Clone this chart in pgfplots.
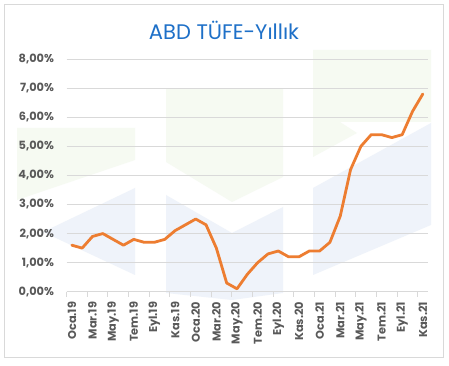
\documentclass[border=0pt]{standalone}
\usepackage{pgfplots}
\pgfplotsset{compat=1.18}
\usepackage{fontspec}
\setmainfont{Poppins}
\definecolor{titleblue}{RGB}{30,112,200}
\definecolor{tickgray}{RGB}{89,89,89}
\definecolor{gridgray}{RGB}{217,217,217}
\definecolor{lineorange}{RGB}{237,125,49}
\definecolor{wmgreen}{RGB}{246,250,242}
\definecolor{wmblue}{RGB}{239,243,250}
\begin{document}
\begin{tikzpicture}[x=0.75pt,y=0.75pt]
\useasboundingbox (0,0) rectangle (449,366);
\fill[white] (0,0) rectangle (449,366);
\draw[gridgray, line width=0.75pt] (4,8) rectangle (443,361);
% watermark decoration
\fill[wmgreen] (17,238) -- (135,238) -- (135,206) -- (17,166) -- cycle;
\fill[wmblue] (135,178) -- (135,91) -- (43,134) -- cycle;
\fill[wmgreen] (166,277) -- (283,277) -- (283,189) -- (232,164) -- (166,204) -- cycle;
\fill[wmblue] (166,171) -- (232,133) -- (283,159) -- (283,73) -- (232,66) -- (166,73) -- cycle;
\fill[wmgreen] (313,316) -- (431,316) -- (431,244) -- (340,244) -- (357,233) -- (313,209) -- cycle;
\fill[wmblue] (313,178) -- (431,243) -- (431,141) -- (313,91) -- cycle;
\node[titleblue, font=\fontsize{15.8}{18}\selectfont] at (224,336) {ABD TÜFE-Yıllık};
\begin{axis}[
  at={(50pt,55.7pt)}, anchor=south west,
  scale only axis, width=271pt, height=174.5pt,
  xmin=-0.5, xmax=34.5, ymin=0, ymax=8,
  axis x line*=bottom, axis y line*=left,
  x axis line style={draw=gridgray, line width=0.75pt, -},
  y axis line style={draw=none},
  ytick={0,1,...,8},
  yticklabels={{0,00\%},{1,00\%},{2,00\%},{3,00\%},{4,00\%},{5,00\%},{6,00\%},{7,00\%},{8,00\%}},
  ymajorgrids, grid style={gridgray, line width=0.75pt},
  y tick style={draw=none},
  xtick={0,2,...,34},
  xticklabels={Oca.19,Mar.19,May.19,Tem.19,Eyl.19,Kas.19,Oca.20,Mar.20,May.20,Tem.20,Eyl.20,Kas.20,Oca.21,Mar.21,May.21,Tem.21,Eyl.21,Kas.21},
  x tick style={draw=none},
  major tick length=0pt,
  extra x ticks={-0.5,1.5,...,33.5},
  extra x tick labels={},
  extra x tick style={x tick style={draw=gridgray, line width=0.75pt}, tick align=outside, major tick length=3.75pt, xmajorgrids=false},
  tick label style={font=\fontsize{8.5}{10}\selectfont\bfseries, color=tickgray},
  x tick label style={rotate=90, anchor=east},
  xticklabel shift=4pt,
  yticklabel shift=6pt,
  clip=false,
]
\addplot[lineorange, line width=2.1pt, line join=round, line cap=round] table {
x y
0 1.6
1 1.5
2 1.9
3 2.0
4 1.8
5 1.6
6 1.8
7 1.7
8 1.7
9 1.8
10 2.1
11 2.3
12 2.5
13 2.3
14 1.5
15 0.3
16 0.1
17 0.6
18 1.0
19 1.3
20 1.4
21 1.2
22 1.2
23 1.4
24 1.4
25 1.7
26 2.6
27 4.2
28 5.0
29 5.4
30 5.4
31 5.3
32 5.4
33 6.2
34 6.8
};
\end{axis}
\end{tikzpicture}
\end{document}
